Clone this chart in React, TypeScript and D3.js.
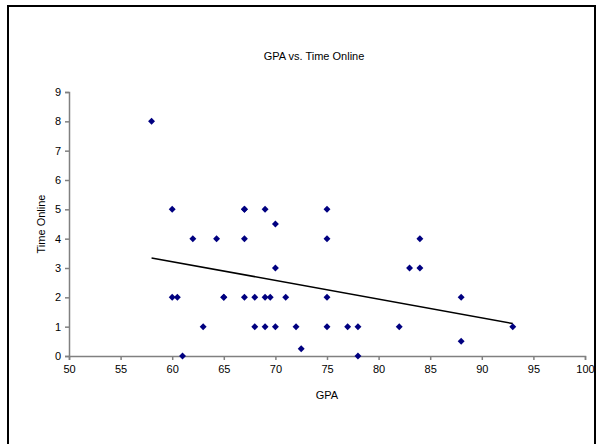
import React from "react";
import * as d3 from "d3";

const gpa = [
  58, 60, 60, 60.5, 61, 62, 63, 64.3, 65, 65, 67, 67, 67, 67, 68, 68, 69, 69, 69, 69.5,
  70, 70, 70, 71, 72, 72.5, 75, 75, 75, 75, 77, 78, 78, 82, 83, 84, 84, 88, 88, 93,
];
const timeOnline = [
  8, 5, 2, 2, 0, 4, 1, 4, 2, 2, 5, 5, 4, 2, 2, 1, 5, 2, 1, 2,
  4.5, 3, 1, 2, 1, 0.25, 5, 4, 2, 1, 1, 1, 0, 1, 3, 4, 3, 2, 0.5, 1,
];
const xTicks = [50, 55, 60, 65, 70, 75, 80, 85, 90, 95, 100];
const yTicks = [0, 1, 2, 3, 4, 5, 6, 7, 8, 9];

const width = 596;
const height = 444;
const plot = { left: 69, right: 585, top: 92, bottom: 356 };

const App = () => {
  const ref = React.useRef<SVGSVGElement>(null);

  React.useEffect(() => {
    const svg = d3.select(ref.current);
    svg.selectAll("*").remove();

    const x = d3.scaleLinear().domain([50, 100]).range([plot.left, plot.right]);
    const y = d3.scaleLinear().domain([0, 9]).range([plot.bottom, plot.top]);
    const font = "Liberation Sans, Arial, sans-serif";

    // chart frame
    svg
      .append("rect")
      .attr("x", 8)
      .attr("y", 6)
      .attr("width", 587)
      .attr("height", 460)
      .attr("fill", "#fff")
      .attr("stroke", "#000")
      .attr("stroke-width", 2);

    const xAxis = svg
      .append("g")
      .attr("transform", `translate(0,${plot.bottom})`)
      .call(d3.axisBottom(x).tickValues(xTicks).tickSize(4).tickSizeOuter(4).tickPadding(5));
    const yAxis = svg
      .append("g")
      .attr("transform", `translate(${plot.left},0)`)
      .call(d3.axisLeft(y).tickValues(yTicks).tickSize(4).tickSizeOuter(4).tickPadding(4));

    [xAxis, yAxis].forEach((g) => {
      g.selectAll("path, line").attr("stroke", "#808080").attr("stroke-width", 1.5);
      g.selectAll("text").attr("fill", "#000").style("font", `11px ${font}`);
    });

    // linear trendline
    const pts = gpa.map((g, i) => [g, timeOnline[i]] as [number, number]);
    const mx = d3.mean(gpa)!;
    const my = d3.mean(timeOnline)!;
    const slope =
      d3.sum(pts, ([a, b]) => (a - mx) * (b - my)) / d3.sum(pts, ([a]) => (a - mx) ** 2);
    const icpt = my - slope * mx;
    const [x0, x1] = d3.extent(gpa) as [number, number];
    svg
      .append("path")
      .attr("d", d3.line()([[x(x0), y(icpt + slope * x0)], [x(x1), y(icpt + slope * x1)]]))
      .attr("stroke", "#000")
      .attr("stroke-width", 1.5)
      .attr("fill", "none");

    svg
      .append("g")
      .selectAll("path")
      .data(pts)
      .enter()
      .append("path")
      .attr("d", d3.symbol(d3.symbolSquare, 24)())
      .attr("transform", ([a, b]) => `translate(${x(a)},${y(b)}) rotate(45)`)
      .attr("fill", "#000080");

    svg
      .append("text")
      .attr("x", 314)
      .attr("y", 60)
      .attr("text-anchor", "middle")
      .style("font", `11px ${font}`)
      .text("GPA vs. Time Online");

    svg
      .append("text")
      .attr("x", (plot.left + plot.right) / 2)
      .attr("y", 399)
      .attr("text-anchor", "middle")
      .style("font", `11px ${font}`)
      .text("GPA");

    svg
      .append("text")
      .attr("transform", `translate(45,${(plot.top + plot.bottom) / 2}) rotate(-90)`)
      .attr("text-anchor", "middle")
      .style("font", `11px ${font}`)
      .text("Time Online");
  }, []);

  return (
    <svg
      ref={ref}
      width={width}
      height={height}
      style={{ position: "absolute", left: 0, top: 0 }}
    />
  );
};

export default App;
